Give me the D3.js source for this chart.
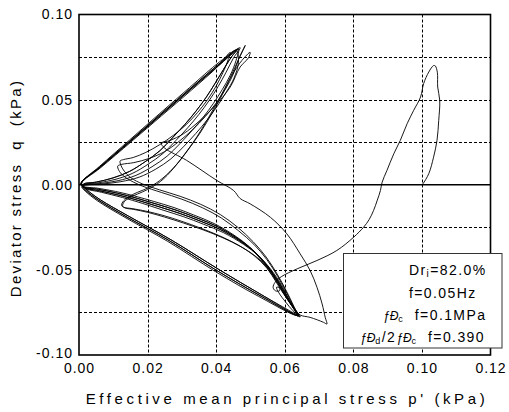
<!DOCTYPE html>
<html>
<head>
<meta charset="utf-8">
<script src="https://cdn.jsdelivr.net/npm/d3@7/dist/d3.min.js"></script>
<style>
  body { margin: 0; background: #fff; }
  text { font-family: "Liberation Sans", Arial, sans-serif; fill: #000; }
</style>
</head>
<body>
<svg id="chart" width="509" height="412"></svg>
<script>
// Axis ticks and grid positions
const xTicks = [0, 0.02, 0.04, 0.06, 0.08, 0.10, 0.12];
const yTicks = [-0.10, -0.05, 0.00, 0.05, 0.10];
const xGrid = [0.02, 0.04, 0.06, 0.08, 0.10];
const yGrid = [-0.075, -0.05, -0.025, 0.025, 0.05, 0.075];

// Effective stress path, p' and q in kPa, split into loading / unloading stages
const firstLoop = [[0.1000,0.0000],[0.1003,0.0006],[0.1020,0.0065],[0.1034,0.0162],[0.1044,0.0261],[0.1049,0.0378],[0.1052,0.0496],[0.1046,0.0574],[0.1045,0.0660],[0.1039,0.0698],[0.1034,0.0700],[0.1020,0.0662],[0.1005,0.0594],[0.0996,0.0515],[0.0976,0.0437],[0.0957,0.0359],[0.0937,0.0261],[0.0918,0.0182],[0.0898,0.0084],[0.0884,0.0015]];
const firstExtension = [[0.0879,-0.0034],[0.0870,-0.0090],[0.0859,-0.0151],[0.0846,-0.0205],[0.0830,-0.0249],[0.0801,-0.0308],[0.0752,-0.0386],[0.0694,-0.0445],[0.0636,-0.0494],[0.0590,-0.0540],[0.0572,-0.0573],[0.0566,-0.0602],[0.0572,-0.0622],[0.0584,-0.0624],[0.0585,-0.0606],[0.0576,-0.0602],[0.0583,-0.0635],[0.0603,-0.0690],[0.0624,-0.0740],[0.0640,-0.0769]];

const unloadExtHookA = [[0.0625,-0.0725],[0.0605,-0.0665],[0.0580,-0.0580],[0.0548,-0.0490],[0.0510,-0.0415],[0.0465,-0.0355],[0.0410,-0.0300],[0.0355,-0.0255],[0.0300,-0.0215],[0.0245,-0.0180],[0.0195,-0.0155],[0.0155,-0.0140],[0.0130,-0.0132],[0.0124,-0.0120]];
const loadCompHookA = [[0.0130,-0.0095],[0.0145,-0.0070],[0.0170,-0.0045],[0.0205,-0.0015],[0.0245,0.0040],[0.0285,0.0120],[0.0320,0.0210],[0.0355,0.0310],[0.0388,0.0420],[0.0418,0.0530],[0.0445,0.0640],[0.0475,0.0730],[0.0499,0.0778]];
const unloadCompEdge = [[0.0494,0.0745],[0.0470,0.0692],[0.0441,0.0574],[0.0402,0.0476],[0.0353,0.0378],[0.0305,0.0300],[0.0265,0.0260],[0.0240,0.0244]];
const crossPath = [[0.0250,0.0215],[0.0314,0.0143],[0.0402,0.0025],[0.0451,-0.0034],[0.0470,-0.0081],[0.0499,-0.0112],[0.0558,-0.0191],[0.0606,-0.0288],[0.0645,-0.0406],[0.0674,-0.0504],[0.0694,-0.0602],[0.0709,-0.0700],[0.0718,-0.0779],[0.0723,-0.0818],[0.0713,-0.0808],[0.0674,-0.0779],[0.0645,-0.0765]];

const unloadExtHookB = [[0.0630,-0.0730],[0.0612,-0.0672],[0.0588,-0.0590],[0.0557,-0.0502],[0.0520,-0.0428],[0.0476,-0.0368],[0.0420,-0.0312],[0.0362,-0.0265],[0.0305,-0.0225],[0.0250,-0.0190],[0.0200,-0.0162],[0.0160,-0.0145],[0.0134,-0.0136],[0.0127,-0.0124]];
const loadCompHookB = [[0.0132,-0.0100],[0.0146,-0.0078],[0.0170,-0.0055],[0.0200,-0.0028],[0.0238,0.0020],[0.0275,0.0095],[0.0310,0.0185],[0.0345,0.0285],[0.0378,0.0395],[0.0410,0.0510],[0.0440,0.0625],[0.0465,0.0735],[0.0485,0.0819]];
const unloadCompHookA = [[0.0465,0.0735],[0.0450,0.0650],[0.0428,0.0565],[0.0400,0.0480],[0.0368,0.0400],[0.0332,0.0325],[0.0292,0.0255],[0.0250,0.0195],[0.0205,0.0155],[0.0160,0.0130],[0.0125,0.0120],[0.0113,0.0110]];
const loadExtHookA = [[0.0116,0.0085],[0.0128,0.0055],[0.0150,0.0025],[0.0185,-0.0008],[0.0240,-0.0045],[0.0300,-0.0085],[0.0360,-0.0135],[0.0415,-0.0195],[0.0465,-0.0270],[0.0510,-0.0350],[0.0548,-0.0440],[0.0580,-0.0540],[0.0607,-0.0640],[0.0627,-0.0720],[0.0642,-0.0772]];

const unloadExt3 = [[0.0617,-0.0700],[0.0593,-0.0630],[0.0563,-0.0533],[0.0531,-0.0440],[0.0496,-0.0363],[0.0452,-0.0296],[0.0394,-0.0228],[0.0335,-0.0178],[0.0277,-0.0134],[0.0218,-0.0098],[0.0162,-0.0066],[0.0106,-0.0039],[0.0053,-0.0020],[0.0012,-0.0008]];
const loadCompA = [[0.0008,0.0010],[0.0063,0.0100],[0.0152,0.0252],[0.0240,0.0404],[0.0328,0.0556],[0.0405,0.0695],[0.0441,0.0778]];
const unloadCompHookB = [[0.0435,0.0735],[0.0420,0.0660],[0.0400,0.0580],[0.0375,0.0500],[0.0346,0.0425],[0.0312,0.0352],[0.0275,0.0290],[0.0235,0.0235],[0.0195,0.0190],[0.0158,0.0160],[0.0130,0.0148],[0.0120,0.0140]];
const loadExtHookB = [[0.0122,0.0115],[0.0132,0.0080],[0.0152,0.0040],[0.0185,0.0005],[0.0235,-0.0030],[0.0295,-0.0068],[0.0355,-0.0115],[0.0412,-0.0175],[0.0463,-0.0250],[0.0508,-0.0335],[0.0546,-0.0425],[0.0578,-0.0525],[0.0605,-0.0625],[0.0626,-0.0712],[0.0638,-0.0768]];

const unloadExt1 = [[0.0621,-0.0710],[0.0600,-0.0646],[0.0572,-0.0550],[0.0540,-0.0457],[0.0505,-0.0380],[0.0461,-0.0313],[0.0403,-0.0245],[0.0344,-0.0195],[0.0286,-0.0151],[0.0227,-0.0114],[0.0170,-0.0080],[0.0113,-0.0050],[0.0057,-0.0027],[0.0013,-0.0012]];
const loadCompB = [[0.0006,0.0008],[0.0061,0.0105],[0.0149,0.0258],[0.0236,0.0411],[0.0324,0.0564],[0.0412,0.0716],[0.0458,0.0790]];
const unloadComp1 = [[0.0445,0.0752],[0.0421,0.0676],[0.0397,0.0596],[0.0371,0.0514],[0.0341,0.0432],[0.0309,0.0355],[0.0274,0.0279],[0.0236,0.0200],[0.0192,0.0134],[0.0147,0.0078],[0.0099,0.0040],[0.0051,0.0016],[0.0013,0.0004]];
const loadExt0 = [[0.0010,-0.0010],[0.0020,-0.0034],[0.0058,-0.0092],[0.0140,-0.0190],[0.0263,-0.0328],[0.0402,-0.0504],[0.0528,-0.0651],[0.0640,-0.0769]];

const unloadExt0 = [[0.0625,-0.0722],[0.0607,-0.0663],[0.0581,-0.0569],[0.0549,-0.0475],[0.0514,-0.0398],[0.0470,-0.0331],[0.0412,-0.0263],[0.0353,-0.0213],[0.0295,-0.0169],[0.0236,-0.0131],[0.0178,-0.0095],[0.0120,-0.0063],[0.0061,-0.0036],[0.0015,-0.0016]];
const loadCompC = [[0.0005,0.0006],[0.0060,0.0108],[0.0147,0.0262],[0.0234,0.0416],[0.0322,0.0570],[0.0410,0.0722],[0.0470,0.0805]];
const unloadComp0 = [[0.0450,0.0743],[0.0429,0.0661],[0.0406,0.0578],[0.0380,0.0496],[0.0350,0.0414],[0.0318,0.0337],[0.0283,0.0261],[0.0245,0.0184],[0.0201,0.0120],[0.0155,0.0066],[0.0105,0.0031],[0.0055,0.0011],[0.0015,0.0002]];
const loadExt1 = [[0.0012,-0.0008],[0.0024,-0.0032],[0.0062,-0.0088],[0.0145,-0.0185],[0.0268,-0.0323],[0.0408,-0.0498],[0.0533,-0.0647],[0.0645,-0.0775]];

const unloadExt2 = [[0.0629,-0.0733],[0.0614,-0.0680],[0.0590,-0.0587],[0.0558,-0.0493],[0.0523,-0.0416],[0.0479,-0.0349],[0.0421,-0.0281],[0.0362,-0.0231],[0.0304,-0.0187],[0.0245,-0.0149],[0.0186,-0.0110],[0.0127,-0.0075],[0.0065,-0.0044],[0.0017,-0.0020]];
const loadCompD = [[0.0007,0.0009],[0.0062,0.0103],[0.0150,0.0255],[0.0238,0.0408],[0.0326,0.0561],[0.0414,0.0712],[0.0465,0.0798]];
const unloadComp2 = [[0.0458,0.0730],[0.0441,0.0643],[0.0418,0.0560],[0.0392,0.0478],[0.0362,0.0396],[0.0330,0.0319],[0.0295,0.0243],[0.0257,0.0168],[0.0213,0.0106],[0.0166,0.0055],[0.0114,0.0024],[0.0061,0.0007],[0.0018,0.0000]];
const loadExt2 = [[0.0008,-0.0012],[0.0018,-0.0037],[0.0055,-0.0096],[0.0137,-0.0195],[0.0259,-0.0333],[0.0397,-0.0509],[0.0524,-0.0656],[0.0636,-0.0766]];

const unloadComp3 = [[0.0465,0.0720],[0.0452,0.0626],[0.0429,0.0543],[0.0403,0.0461],[0.0373,0.0379],[0.0341,0.0302],[0.0306,0.0226],[0.0268,0.0152],[0.0224,0.0092],[0.0176,0.0045],[0.0122,0.0018],[0.0066,0.0004],[0.0020,-0.0002]];

// Stages in test order
const stages = [
  firstLoop, firstExtension,
  unloadExtHookA, loadCompHookA, unloadCompEdge, crossPath,
  unloadExtHookB, loadCompHookB, unloadCompHookA, loadExtHookA,
  unloadExt3, loadCompA, unloadCompHookB, loadExtHookB,
  unloadExt1, loadCompB, unloadComp1, loadExt0,
  unloadExt0, loadCompC, unloadComp0, loadExt1,
  unloadExt2, loadCompD, unloadComp2, loadExt2,
  unloadExt1, loadCompB, unloadComp3, loadExt0,
  unloadExt0, loadCompD, unloadComp1, loadExt1
];

const svg = d3.select("#chart");
const W = 509, H = 412;
const plotL = 79, plotR = 490.5, plotT = 14.5, plotB = 355;

const x = d3.scaleLinear().domain([0, 0.12]).range([plotL, plotR]);
const y = d3.scaleLinear().domain([-0.10, 0.10]).range([plotB, plotT]);

svg.append("rect").attr("width", W).attr("height", H).attr("fill", "#fff");

// dashed grid
const grid = svg.append("g").attr("stroke", "#000").attr("stroke-width", 1).attr("stroke-dasharray", "3,2");
grid.selectAll("line.v").data(xGrid).join("line").attr("class", "v")
  .attr("x1", d => Math.round(x(d)) + 0.5).attr("x2", d => Math.round(x(d)) + 0.5)
  .attr("y1", plotT).attr("y2", plotB);
grid.selectAll("line.h").data(yGrid).join("line").attr("class", "h")
  .attr("y1", d => Math.round(y(d)) + 0.5).attr("y2", d => Math.round(y(d)) + 0.5)
  .attr("x1", plotL).attr("x2", plotR);

// q = 0 reference
svg.append("line").attr("x1", plotL).attr("x2", plotR)
  .attr("y1", y(0)).attr("y2", y(0)).attr("stroke", "#000").attr("stroke-width", 1.6);

// stress path
svg.append("clipPath").attr("id", "plotclip").append("rect")
  .attr("x", plotL).attr("y", plotT).attr("width", plotR - plotL).attr("height", plotB - plotT);
const line = d3.line().x(d => x(d[0])).y(d => y(d[1])).curve(d3.curveCatmullRom.alpha(0.5));
svg.append("path").datum(stages.flat())
  .attr("clip-path", "url(#plotclip)")
  .attr("fill", "none").attr("stroke", "#000").attr("stroke-width", 0.9)
  .attr("stroke-linejoin", "round").attr("d", line);

// frame
svg.append("rect").attr("x", plotL).attr("y", plotT).attr("width", plotR - plotL).attr("height", plotB - plotT)
  .attr("fill", "none").attr("stroke", "#000").attr("stroke-width", 1.6);

// axes (plain hyphen for negatives)
const fmt = d => d.toFixed(2);
const yAxis = svg.append("g").attr("transform", `translate(${plotL},0)`)
  .call(d3.axisLeft(y).tickValues(yTicks).tickFormat(fmt).tickSize(0).tickPadding(6));
yAxis.select(".domain").remove();
yAxis.selectAll("text").attr("font-size", 14).attr("letter-spacing", "1px")
  .attr("font-family", "Liberation Sans, Arial, sans-serif").attr("fill", "#000");
yAxis.selectAll(".tick").filter(d => d === -0.10).select("text").attr("dy", "0.15em");

const xAxis = svg.append("g").attr("transform", `translate(0,${plotB})`)
  .call(d3.axisBottom(x).tickValues(xTicks).tickFormat(fmt).tickSize(0).tickPadding(8));
xAxis.select(".domain").remove();
xAxis.selectAll("text").attr("font-size", 14).attr("letter-spacing", "1px")
  .attr("font-family", "Liberation Sans, Arial, sans-serif").attr("fill", "#000");

// axis titles
svg.append("text").attr("x", 287).attr("y", 404).attr("text-anchor", "middle")
  .attr("font-size", 15).attr("letter-spacing", "3.6px").style("white-space", "pre")
  .text("Effective mean principal stress p' (kPa)");
svg.append("text").attr("transform", "translate(21,188) rotate(-90)").attr("text-anchor", "middle")
  .attr("font-size", 15).attr("letter-spacing", "2.3px").style("white-space", "pre")
  .text("Deviator stress  q  (kPa)");

// legend
svg.append("rect").attr("x", 343.5).attr("y", 253.5).attr("width", 158.5).attr("height", 94.5)
  .attr("fill", "#fff").attr("stroke", "#333").attr("stroke-width", 1);
const leg = svg.append("g").attr("font-size", 14).attr("letter-spacing", "1.4px");
const l1 = leg.append("text").attr("x", 409).attr("y", 275);
l1.append("tspan").text("Dr");
l1.append("tspan").attr("font-size", 10).attr("dy", 2).text("i");
l1.append("tspan").attr("dy", -2).text("=82.0%");
leg.append("text").attr("x", 409).attr("y", 298).text("f=0.05Hz");
const l3 = leg.append("text").attr("x", 383).attr("y", 320).style("white-space", "pre");
l3.append("tspan").attr("font-size", 12).attr("font-style", "italic").attr("letter-spacing", "0px").text("ƒÐ");
l3.append("tspan").attr("font-size", 9).attr("dy", 2).text("c");
l3.append("tspan").attr("dy", -2).text("  f=0.1MPa");
const l4 = leg.append("text").attr("x", 360).attr("y", 342).style("white-space", "pre");
l4.append("tspan").attr("font-size", 12).attr("font-style", "italic").attr("letter-spacing", "0px").text("ƒÐ");
l4.append("tspan").attr("font-size", 9).attr("dy", 2).text("d");
l4.append("tspan").attr("dy", -2).text("/2");
l4.append("tspan").attr("font-size", 12).attr("font-style", "italic").attr("letter-spacing", "0px").text("ƒÐ");
l4.append("tspan").attr("font-size", 9).attr("dy", 2).text("c");
l4.append("tspan").attr("dy", -2).text("  f=0.390");
</script>
</body>
</html>
